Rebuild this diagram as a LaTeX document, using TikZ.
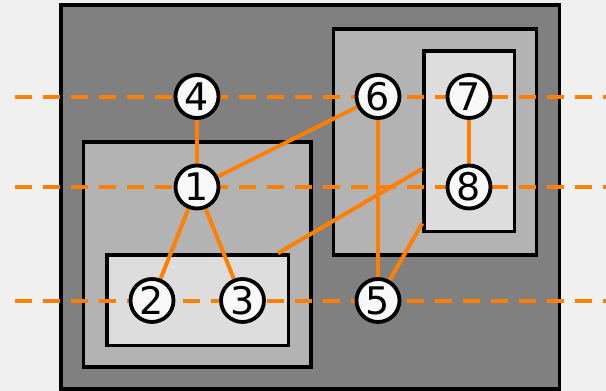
\documentclass[tikz,border=0pt]{standalone}
\usepackage{fontspec}
\setmainfont{DejaVu Sans}
\pgfdeclarelayer{clusters}
\pgfdeclarelayer{guides}
\pgfdeclarelayer{links}
\pgfsetlayers{clusters,guides,links,main}
\definecolor{pagebg}{RGB}{240,240,240}
\definecolor{lvlA}{RGB}{128,128,128}
\definecolor{lvlB}{RGB}{179,179,179}
\definecolor{lvlC}{RGB}{221,221,221}
\definecolor{nodefill}{RGB}{248,248,248}
\definecolor{orangeline}{RGB}{255,128,0}
\tikzset{
  cluster/.style={draw=black, line width=3.5pt, rectangle, inner sep=0pt},
  vertex/.style={circle, draw=black, line width=3.8pt, fill=nodefill,
    minimum size=43pt, inner sep=0pt, font=\fontsize{38}{40}\selectfont},
  link/.style={draw=orangeline, line width=4pt},
  guide/.style={draw=orangeline, line width=4pt, dash pattern=on 16.5pt off 11.5pt}
}
\begin{document}
\begin{tikzpicture}[x=1pt, y=-1pt]
  \useasboundingbox (0,0) rectangle (606,391);

  % page background and nested clusters
  \begin{pgfonlayer}{clusters}
    \fill[pagebg] (0,0) rectangle (606,391);
    \node[cluster, fill=lvlA, minimum width=498.5pt, minimum height=384pt] (outer) at (310.25,197) {};
    \node[cluster, fill=lvlB, minimum width=227.5pt, minimum height=225pt] (cleft) at (197.25,254.5) {};
    \node[cluster, fill=lvlC, minimum width=181.5pt, minimum height=90.5pt] (cbottom) at (197.75,300.25) {};
    \node[cluster, fill=lvlB, minimum width=203pt, minimum height=226pt] (cright) at (435,142) {};
    \node[cluster, fill=lvlC, minimum width=90.5pt, minimum height=180.5pt] (cinner) at (469.25,141.25) {};
  \end{pgfonlayer}

  % rank guide lines
  \coordinate (gA0) at (15,96.5);   \coordinate (gA1) at (606,96.5);
  \coordinate (gB0) at (15,187);    \coordinate (gB1) at (606,187);
  \coordinate (gC0) at (15,300.5);  \coordinate (gC1) at (606,300.5);
  \begin{pgfonlayer}{guides}
    \draw[guide] (gA0) -- (gA1);
    \draw[guide] (gB0) -- (gB1);
    \draw[guide] (gC0) -- (gC1);
  \end{pgfonlayer}

  % vertices
  \node[vertex] (n4) at (197,96.5) {4};
  \node[vertex] (n6) at (378,96.5) {6};
  \node[vertex] (n7) at (469,96.5) {7};
  \node[vertex] (n1) at (197,187) {1};
  \node[vertex] (n8) at (469,187) {8};
  \node[vertex] (n2) at (152,300.5) {2};
  \node[vertex] (n3) at (242.5,300.5) {3};
  \node[vertex] (n5) at (378,300.5) {5};

  % edges
  \begin{pgfonlayer}{links}
    \draw[link] (n4) -- (n1);
    \draw[link] (n1) -- (n6);
    \draw[link] (n1) -- (n2);
    \draw[link] (n1) -- (n3);
    \draw[link] (n6) -- (n5);
    \draw[link] (n7) -- (n8);
    \draw[link] (cbottom) -- (cinner);
    \draw[link] (n5) -- (cinner);
  \end{pgfonlayer}
\end{tikzpicture}
\end{document}
